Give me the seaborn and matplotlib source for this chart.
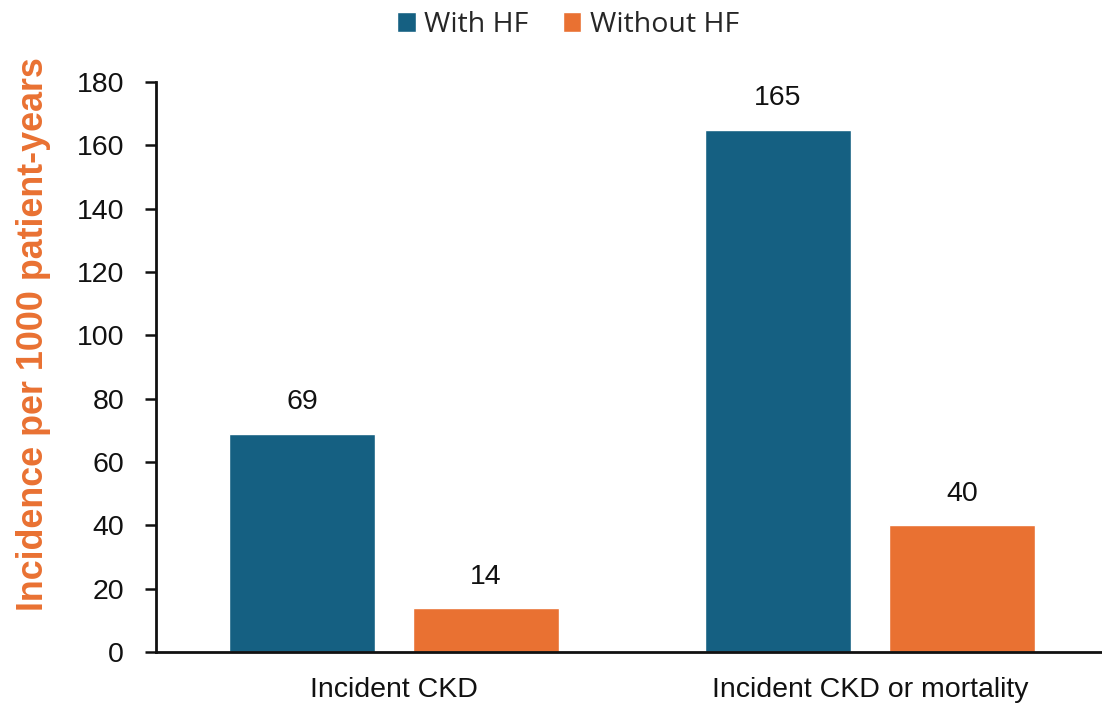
import matplotlib
matplotlib.use("Agg")
import matplotlib.pyplot as plt
import seaborn as sns
import pandas as pd
from matplotlib import font_manager

categories = ["Incident CKD", "Incident CKD or mortality"]
groups = ["With HF", "Without HF"]
with_hf = [69, 165]
without_hf = [14, 40]
y_ticks = [0, 20, 40, 60, 80, 100, 120, 140, 160, 180]

palette = {"With HF": "#156082", "Without HF": "#E97132"}

df = pd.DataFrame({
    "category": categories * 2,
    "group": [groups[0]] * len(categories) + [groups[1]] * len(categories),
    "value": with_hf + without_hf,
})

sns.set_style("white")
plt.rcParams["font.family"] = ["Liberation Sans", "DejaVu Sans"]

names = {f.name for f in font_manager.fontManager.ttflist}
narrow = "Liberation Sans Narrow" if "Liberation Sans Narrow" in names else "Liberation Sans"

fig = plt.figure(figsize=(11.02, 7.07), dpi=100)
ax = fig.add_axes([156 / 1102, 55 / 707, 952 / 1102, 570 / 707])

sns.barplot(data=df, x="category", y="value", hue="group", order=categories,
            hue_order=groups, palette=palette, width=0.773, gap=0.207,
            saturation=1, ax=ax, legend=True)

for container in ax.containers:
    ax.bar_label(container, fmt="%g", padding=13, fontsize=20.5, color="#111111")

ax.set_xlim(-0.5, 1.5)
ax.set_ylim(0, 180)
ax.set_yticks(y_ticks)
ax.tick_params(axis="y", which="major", direction="out", length=8, width=1.8,
               labelsize=20.5, pad=15, left=True, colors="#111111")
ax.tick_params(axis="x", length=0, labelsize=20.5, pad=18, colors="#111111")
for lbl in ax.get_xticklabels():
    lbl.set_fontfamily(narrow)
for s in ["top", "right"]:
    ax.spines[s].set_visible(False)
for s in ["left", "bottom"]:
    ax.spines[s].set_color("#111111")
    ax.spines[s].set_linewidth(2)

ax.set_xlabel("")
ax.set_ylabel("Incidence per 1000 patient-years", color="#E97132",
              fontsize=25.8, fontweight="bold")
ax.yaxis.set_label_coords(-0.110, 0.558)

handles, labels = ax.get_legend_handles_labels()
ax.legend(handles, labels, loc="center", bbox_to_anchor=(0.433, 1.1),
          ncol=2, frameon=False, handlelength=0.65,
          handleheight=0.65, handletextpad=0.3, columnspacing=1.2,
          borderpad=0, prop={"family": "Open Sans", "size": 20.5})

fig.savefig("out.png", dpi=100)
